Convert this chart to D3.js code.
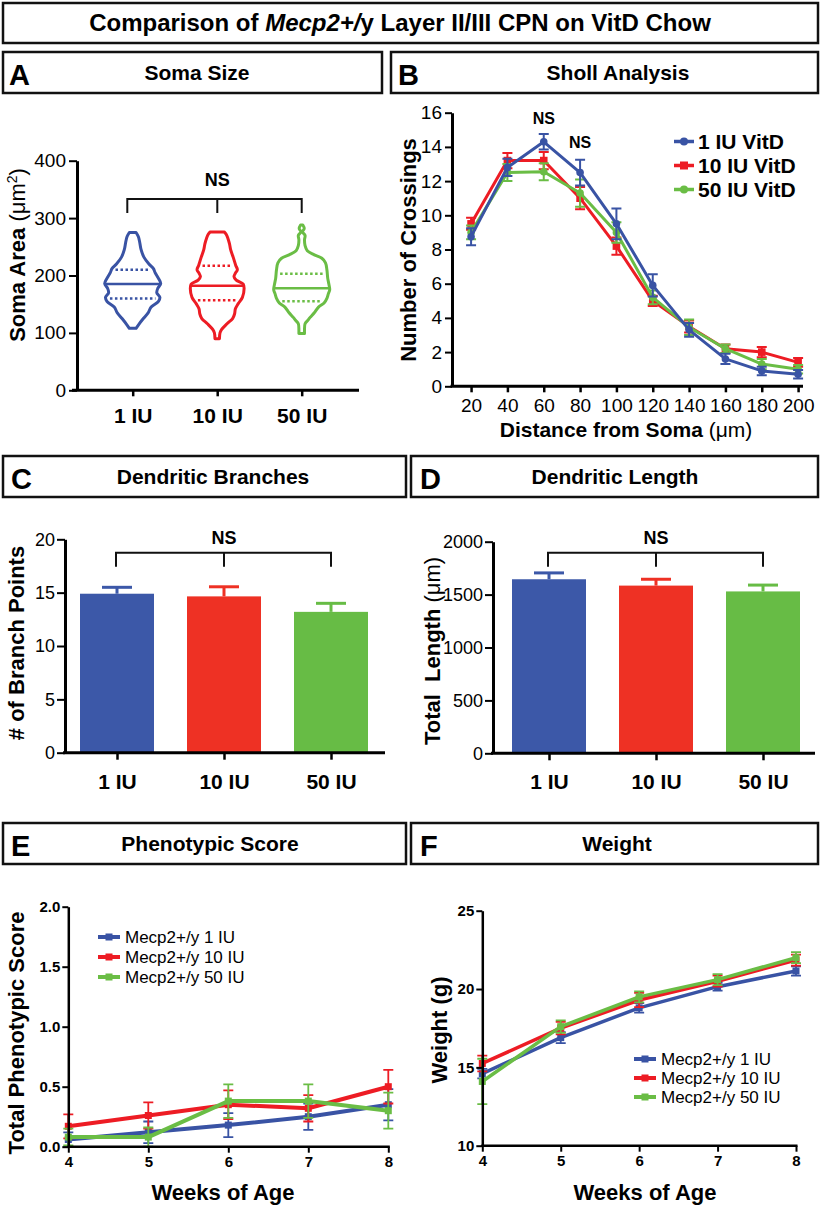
<!DOCTYPE html>
<html>
<head>
<meta charset="utf-8">
<script src="https://cdn.jsdelivr.net/npm/d3@7"></script>
<style>
  body { margin: 0; background: #fff; }
  svg { display: block; }
</style>
</head>
<body>
<div id="fig"></div>
<script>
// Mecp2 VitD figure - six panels

var FONT = "Liberation Sans, Arial, Helvetica, sans-serif";

var groups = ["1 IU", "10 IU", "50 IU"];
var lineColors = ["#3953a4", "#ed1c24", "#6abd45"];
var barColors = ["#3c58a8", "#ee3124", "#67bc45"];

// A - soma size violins: [value, relative width]
var somaTicks = [0, 100, 200, 300, 400];
var violinBlue = [[108,0.12],[115,0.22],[125,0.38],[135,0.55],[145,0.66],[155,0.92],[162,0.97],[170,0.86],[178,0.9],[186,1.0],[195,0.92],[205,0.8],[212,0.74],[220,0.58],[232,0.4],[245,0.3],[258,0.25],[268,0.2],[275,0.12]];
var violinRed = [[90,0.08],[100,0.1],[106,0.16],[116,0.35],[125,0.55],[133,0.62],[142,0.65],[151,0.75],[162,0.9],[177,0.96],[185,0.93],[192,0.68],[198,0.6],[204,0.65],[210,0.72],[218,0.66],[232,0.57],[245,0.48],[255,0.44],[265,0.38],[272,0.32],[276,0.25]];
var violinGreen = [[99,0.1],[105,0.1],[116,0.12],[122,0.22],[127,0.3],[135,0.45],[145,0.6],[152,0.8],[160,0.9],[168,0.95],[175,1.0],[185,0.97],[195,0.93],[210,0.9],[222,0.85],[230,0.72],[236,0.45],[243,0.2],[252,0.12],[262,0.1],[270,0.12],[276,0.03],[282,0.09],[288,0.04]];
var somaQuart = [[160,185,210],[157,182,217],[155,178,203]];

// B - sholl analysis
var shollDist = [20, 40, 60, 80, 100, 120, 140, 160, 180, 200];
var shollTicks = [0, 2, 4, 6, 8, 10, 12, 14, 16];
var shollBlue = [8.75, 12.8, 14.3, 12.5, 9.5, 5.9, 3.3, 1.6, 0.9, 0.7];
var shollBlueErr = [0.5, 0.5, 0.45, 0.75, 0.9, 0.65, 0.4, 0.3, 0.25, 0.25];
var shollRed = [9.5, 13.2, 13.2, 11.0, 8.2, 5.0, 3.5, 2.2, 2.0, 1.4];
var shollRedErr = [0.35, 0.45, 0.5, 0.65, 0.5, 0.3, 0.35, 0.25, 0.3, 0.25];
var shollGreen = [9.0, 12.5, 12.55, 11.3, 9.0, 5.2, 3.45, 2.2, 1.3, 1.0];
var shollGreenErr = [0.4, 0.5, 0.5, 0.8, 0.6, 0.4, 0.45, 0.25, 0.3, 0.25];
var shollNames = ["1 IU VitD", "10 IU VitD", "50 IU VitD"];

// C - dendritic branches
var branchTicks = [0, 5, 10, 15, 20];
var branchMean = [14.9, 14.65, 13.2];
var branchErr = [0.6, 0.9, 0.8];

// D - dendritic length
var lengthTicks = [0, 500, 1000, 1500, 2000];
var lengthMean = [1645, 1585, 1530];
var lengthErr = [60, 60, 60];

// E - phenotypic score
var weeks = [4, 5, 6, 7, 8];
var scoreTicks = [0, 0.5, 1.0, 1.5, 2.0];
var scoreBlue = [0.06, 0.12, 0.18, 0.25, 0.35];
var scoreBlueErr = [0.06, 0.09, 0.1, 0.11, 0.13];
var scoreRed = [0.17, 0.26, 0.35, 0.32, 0.50];
var scoreRedErr = [0.1, 0.11, 0.12, 0.11, 0.14];
var scoreGreen = [0.08, 0.08, 0.38, 0.38, 0.30];
var scoreGreenErr = [0.07, 0.08, 0.14, 0.14, 0.15];

// F - weight
var weightTicks = [10, 15, 20, 25];
var weightBlue = [14.6, 16.9, 18.8, 20.15, 21.15];
var weightBlueErr = [0.3, 0.35, 0.3, 0.25, 0.3];
var weightRed = [15.25, 17.5, 19.3, 20.5, 21.85];
var weightRedErr = [0.5, 0.4, 0.45, 0.35, 0.35];
var weightGreen = [14.1, 17.6, 19.5, 20.6, 22.0];
var weightGreenErr = [1.45, 0.4, 0.35, 0.35, 0.35];
var mouseNames = ["Mecp2+/y 1 IU", "Mecp2+/y 10 IU", "Mecp2+/y 50 IU"];

var width = 820;
var height = 1207;

var svg = d3.select("#fig")
    .append("svg")
    .attr("width", width)
    .attr("height", height)
    .style("font-family", FONT);

// ---------- header boxes ----------
function box(x, y, w, h) {
    svg.append("rect")
        .attr("x", x).attr("y", y)
        .attr("width", w).attr("height", h)
        .attr("fill", "none")
        .attr("stroke", "#111")
        .attr("stroke-width", 2.5);
}

function header(x, y, w, letter, lx, title, tx) {
    box(x, y, w, 41);
    svg.append("text")
        .attr("x", lx).attr("y", y + 33)
        .attr("font-size", 29).attr("font-weight", "bold")
        .text(letter);
    svg.append("text")
        .attr("x", tx).attr("y", y + 28)
        .attr("text-anchor", "middle")
        .attr("font-size", 21).attr("font-weight", "bold")
        .text(title);
}

box(3, 3, 815, 40);
var mainTitle = svg.append("text")
    .attr("x", 400).attr("y", 31)
    .attr("text-anchor", "middle")
    .attr("font-size", 24).attr("font-weight", "bold");
mainTitle.append("tspan").text("Comparison of ");
mainTitle.append("tspan").attr("font-style", "italic").text("Mecp2+/");
mainTitle.append("tspan").text("y Layer II/III CPN on VitD Chow");

header(3, 52, 379, "A", 9, "Soma Size", 197);
header(391, 52, 427, "B", 398, "Sholl Analysis", 618);
header(3, 456, 403, "C", 11, "Dendritic Branches", 213);
header(411, 456, 407, "D", 420, "Dendritic Length", 615);
header(3, 823, 403, "E", 11, "Phenotypic Score", 210);
header(411, 823, 407, "F", 420, "Weight", 617);

// ---------- axis helpers ----------
function leftAxis(scale, x, ticks, opt) {
    var g = svg.append("g")
        .attr("transform", "translate(" + x + ",0)")
        .call(d3.axisLeft(scale)
            .tickValues(ticks)
            .tickSize(opt.tick)
            .tickSizeOuter(0)
            .tickPadding(opt.pad)
            .tickFormat(opt.fmt || function(d) { return d; }));
    g.select(".domain").attr("stroke", "#000").attr("stroke-width", opt.sw);
    g.selectAll(".tick line").attr("stroke", "#000").attr("stroke-width", opt.tsw || 2);
    g.selectAll(".tick text")
        .attr("fill", "#000")
        .attr("font-family", FONT)
        .attr("font-size", opt.fs)
        .attr("font-weight", opt.bold ? "bold" : "normal");
    return g;
}

function bottomAxis(scale, y, ticks, opt) {
    var g = svg.append("g")
        .attr("transform", "translate(0," + y + ")")
        .call(d3.axisBottom(scale)
            .tickValues(ticks)
            .tickSize(opt.tick)
            .tickSizeOuter(0)
            .tickPadding(opt.pad)
            .tickFormat(opt.fmt || function(d) { return d; }));
    g.select(".domain").remove();
    g.selectAll(".tick line").attr("stroke", "#000").attr("stroke-width", opt.tsw || 2.5);
    g.selectAll(".tick text")
        .attr("fill", "#000")
        .attr("font-family", FONT)
        .attr("font-size", opt.fs)
        .attr("font-weight", opt.bold ? "bold" : "normal");
    svg.append("line")
        .attr("x1", opt.x0).attr("x2", opt.x1)
        .attr("y1", y).attr("y2", y)
        .attr("stroke", "#000").attr("stroke-width", opt.sw);
    return g;
}

function yTitle(x, y, parts) {
    var t = svg.append("text")
        .attr("transform", "translate(" + x + "," + y + ") rotate(-90)")
        .attr("text-anchor", "middle")
        .attr("font-size", 22)
        .style("white-space", "pre");
    parts.forEach(function(p) {
        var s = t.append("tspan").attr("font-weight", p[1] ? "bold" : "normal").text(p[0]);
        if (p[2]) s.attr("font-size", 14).attr("baseline-shift", "super");
    });
}

function xTitle(x, y, parts, fs) {
    var t = svg.append("text")
        .attr("x", x).attr("y", y)
        .attr("text-anchor", "middle")
        .attr("font-size", fs || 22);
    parts.forEach(function(p) {
        t.append("tspan").attr("font-weight", p[1] ? "bold" : "normal").text(p[0]);
    });
}

function bracket(x0, xm, x1, y, drop, labelY, fs) {
    var path = d3.path();
    path.moveTo(x0, y + drop); path.lineTo(x0, y); path.lineTo(x1, y); path.lineTo(x1, y + drop);
    path.moveTo(xm, y); path.lineTo(xm, y + drop);
    svg.append("path").attr("d", path.toString())
        .attr("fill", "none").attr("stroke", "#111").attr("stroke-width", 2);
    svg.append("text").attr("x", xm).attr("y", labelY)
        .attr("text-anchor", "middle")
        .attr("font-size", fs).attr("font-weight", "bold")
        .text("NS");
}

// ---------- A: violins ----------
var yA = d3.scaleLinear().domain([0, 400]).range([390.3, 160.7]);
var xA = d3.scalePoint().domain(groups).range([132.7, 301.7]);
var vw = d3.scaleLinear().domain([0, 1]).range([0, 28]);

function halfAt(prof, v) {
    for (var i = 0; i < prof.length - 1; i++) {
        if (v >= prof[i][0] && v <= prof[i + 1][0]) {
            var t = (v - prof[i][0]) / (prof[i + 1][0] - prof[i][0]);
            return prof[i][1] + t * (prof[i + 1][1] - prof[i][1]);
        }
    }
    return 0;
}

[violinBlue, violinRed, violinGreen].forEach(function(prof, i) {
    var cx = xA(groups[i]);
    var area = d3.area()
        .curve(d3.curveCatmullRom)
        .y(function(d) { return yA(d[0]); })
        .x0(function(d) { return cx - vw(d[1]); })
        .x1(function(d) { return cx + vw(d[1]); });
    svg.append("path")
        .attr("d", area(prof))
        .attr("fill", "none")
        .attr("stroke", lineColors[i])
        .attr("stroke-width", 3)
        .attr("stroke-linejoin", "round");
    somaQuart[i].forEach(function(q, k) {
        var hw = vw(halfAt(prof, q)) - (k === 1 ? 0 : 4);
        svg.append("line")
            .attr("x1", cx - hw).attr("x2", cx + hw)
            .attr("y1", yA(q)).attr("y2", yA(q))
            .attr("stroke", lineColors[i])
            .attr("stroke-width", 2.5)
            .attr("stroke-dasharray", k === 1 ? null : "2.5,2.5");
    });
});

leftAxis(yA, 77, somaTicks, { tick: 8, pad: 3, sw: 3, fs: 19 });
bottomAxis(xA, 390.3, groups, { tick: 6, pad: 12, sw: 3, fs: 21, bold: true, x0: 72, x1: 359 });
yTitle(25, 255, [["Soma Area ", true], ["(μm", false], ["2", false, true], [")", false]]);
bracket(127.3, 217.3, 301.7, 199, 14, 186, 18);

// ---------- B: sholl ----------
var xB = d3.scaleLinear().domain([9.5, 202.7]).range([452, 803]);
var yB = d3.scaleLinear().domain([0, 16]).range([386.3, 112.7]);

var shollSeries = [
    { v: shollRed, e: shollRedErr, c: 1, m: "square" },
    { v: shollGreen, e: shollGreenErr, c: 2, m: "circle" },
    { v: shollBlue, e: shollBlueErr, c: 0, m: "circle" }
];

function drawSeries(xs, xScale, yScale, s, lw, ms, cap) {
    var col = lineColors[s.c];
    var g = svg.append("g");
    var line = d3.line()
        .x(function(d, i) { return xScale(xs[i]); })
        .y(function(d) { return yScale(d); });
    g.append("path").attr("d", line(s.v))
        .attr("fill", "none").attr("stroke", col)
        .attr("stroke-width", lw).attr("stroke-linejoin", "round");
    s.v.forEach(function(v, i) {
        var x = xScale(xs[i]);
        var lo = yScale(Math.max(v - s.e[i], yScale.domain()[0]));
        var hi = yScale(v + s.e[i]);
        var p = d3.path();
        p.moveTo(x, lo); p.lineTo(x, hi);
        p.moveTo(x - cap, hi); p.lineTo(x + cap, hi);
        p.moveTo(x - cap, lo); p.lineTo(x + cap, lo);
        g.append("path").attr("d", p.toString())
            .attr("stroke", col).attr("stroke-width", 2).attr("fill", "none");
        if (s.m === "circle") {
            g.append("circle").attr("cx", x).attr("cy", yScale(v)).attr("r", ms).attr("fill", col);
        } else {
            g.append("rect").attr("x", x - ms).attr("y", yScale(v) - ms)
                .attr("width", ms * 2).attr("height", ms * 2).attr("fill", col);
        }
    });
}

shollSeries.forEach(function(s) { drawSeries(shollDist, xB, yB, s, 3, 3.8, 5); });

leftAxis(yB, 452, shollTicks, { tick: 7, pad: 3, sw: 3, fs: 19 });
bottomAxis(xB, 386.3, shollDist, { tick: 6, pad: 6, sw: 3, fs: 19, x0: 450.5, x1: 803 });
xTitle(626, 437, [["Distance from Soma ", true], ["(μm)", false]], 21);
yTitle(416, 250, [["Number of Crossings", true]]);

svg.append("text").attr("x", xB(60)).attr("y", 124).attr("text-anchor", "middle")
    .attr("font-size", 16).attr("font-weight", "bold").text("NS");
svg.append("text").attr("x", xB(80)).attr("y", 148).attr("text-anchor", "middle")
    .attr("font-size", 16).attr("font-weight", "bold").text("NS");

shollNames.forEach(function(name, i) {
    var y = 149 + i * 24;
    var col = lineColors[i];
    svg.append("line").attr("x1", 674).attr("x2", 694).attr("y1", y - 7.5).attr("y2", y - 7.5)
        .attr("stroke", col).attr("stroke-width", 3.5);
    if (i === 1) {
        svg.append("rect").attr("x", 680).attr("y", y - 11.5).attr("width", 8).attr("height", 8).attr("fill", col);
    } else {
        svg.append("circle").attr("cx", 684).attr("cy", y - 7.5).attr("r", 4).attr("fill", col);
    }
    svg.append("text").attr("x", 698).attr("y", y)
        .attr("font-size", 21).attr("font-weight", "bold").text(name);
});

// ---------- C and D: bars ----------
function barPanel(cfg) {
    var x = d3.scalePoint().domain(groups).range(cfg.xr);
    var y = d3.scaleLinear().domain(cfg.dom).range(cfg.yr);
    cfg.mean.forEach(function(m, i) {
        var cx = x(groups[i]);
        var top = y(m + cfg.err[i]);
        svg.append("line").attr("x1", cx).attr("x2", cx).attr("y1", y(m)).attr("y2", top)
            .attr("stroke", barColors[i]).attr("stroke-width", 3);
        svg.append("line").attr("x1", cx - 15).attr("x2", cx + 15).attr("y1", top).attr("y2", top)
            .attr("stroke", barColors[i]).attr("stroke-width", 3);
        svg.append("rect")
            .attr("x", cx - 37).attr("y", y(m))
            .attr("width", 74).attr("height", y(cfg.dom[0]) - y(m))
            .attr("fill", barColors[i]);
    });
    leftAxis(y, cfg.ax, cfg.ticks, { tick: 8, pad: 2, sw: 3, fs: 18 });
    bottomAxis(x, cfg.yr[0], groups, { tick: 7, pad: 14, sw: 3, fs: 21, bold: true, x0: cfg.ax - 2, x1: cfg.xEnd });
    bracket(x(groups[0]) - 1, x(groups[1]), x(groups[2]), 552.7, 14, 544, 18);
}

barPanel({ xr: [117, 331], dom: [0, 20], yr: [752.7, 539.3], mean: branchMean, err: branchErr,
    ax: 65, ticks: branchTicks, xEnd: 385 });
yTitle(24, 643, [["# of Branch Points", true]]);

barPanel({ xr: [549, 763], dom: [0, 2000], yr: [753.3, 541.7], mean: lengthMean, err: lengthErr,
    ax: 493, ticks: lengthTicks, xEnd: 815 });
yTitle(440, 651, [["Total  Length ", true], ["(μm)", false]]);

// ---------- E and F: weekly lines ----------
function weekPanel(cfg) {
    var x = d3.scaleLinear().domain([4, 8]).range(cfg.xr);
    var y = d3.scaleLinear().domain(cfg.dom).range(cfg.yr);
    cfg.series.forEach(function(s) {
        var col = lineColors[s.c];
        var g = svg.append("g");
        s.v.forEach(function(v, i) {
            var px = x(weeks[i]);
            var lo = y(Math.max(v - s.e[i], cfg.dom[0]));
            var hi = y(v + s.e[i]);
            var p = d3.path();
            p.moveTo(px, lo); p.lineTo(px, hi);
            p.moveTo(px - 5, hi); p.lineTo(px + 5, hi);
            p.moveTo(px - 5, lo); p.lineTo(px + 5, lo);
            g.append("path").attr("d", p.toString())
                .attr("stroke", col).attr("stroke-width", 1.8).attr("fill", "none");
        });
        var line = d3.line()
            .x(function(d, i) { return x(weeks[i]); })
            .y(function(d) { return y(d); });
        g.append("path").attr("d", line(s.v))
            .attr("fill", "none").attr("stroke", col)
            .attr("stroke-width", cfg.lw).attr("stroke-linejoin", "round");
        s.v.forEach(function(v, i) {
            g.append("rect").attr("x", x(weeks[i]) - 3.5).attr("y", y(v) - 3.5)
                .attr("width", 7).attr("height", 7).attr("fill", col);
        });
    });
    leftAxis(y, cfg.xr[0], cfg.ticks, { tick: 6, pad: 2, sw: 2.5, fs: 15, bold: true, fmt: cfg.fmt });
    bottomAxis(x, cfg.yr[0], weeks, { tick: 6, pad: 4, sw: 2.5, fs: 15, bold: true, x0: cfg.xr[0] - 1, x1: cfg.xr[1] + 1.5, tsw: 2 });
    xTitle(cfg.tx, 1200, [["Weeks of Age", true]], 22);
    mouseNames.forEach(function(name, i) {
        var yy = cfg.leg[1] + i * cfg.leg[2];
        svg.append("line").attr("x1", cfg.leg[0]).attr("x2", cfg.leg[0] + 22)
            .attr("y1", yy - 6).attr("y2", yy - 6)
            .attr("stroke", lineColors[i]).attr("stroke-width", 4);
        svg.append("rect").attr("x", cfg.leg[0] + 7.5).attr("y", yy - 9.5)
            .attr("width", 7).attr("height", 7).attr("fill", lineColors[i]);
        svg.append("text").attr("x", cfg.leg[0] + 27).attr("y", yy)
            .attr("font-size", 17).text(name);
    });
}

weekPanel({
    xr: [68.3, 388.3], dom: [0, 2], yr: [1146.7, 906.7], ticks: scoreTicks,
    fmt: d3.format(".1f"), lw: 4, tx: 223, leg: [98, 943, 20],
    series: [
        { v: scoreBlue, e: scoreBlueErr, c: 0 },
        { v: scoreRed, e: scoreRedErr, c: 1 },
        { v: scoreGreen, e: scoreGreenErr, c: 2 }
    ]
});
yTitle(24, 1033, [["Total Phenotypic Score", true]]);

weekPanel({
    xr: [482.3, 796], dom: [10, 25], yr: [1145.7, 910.7], ticks: weightTicks,
    lw: 3.5, tx: 645, leg: [634, 1065, 19],
    series: [
        { v: weightBlue, e: weightBlueErr, c: 0 },
        { v: weightRed, e: weightRedErr, c: 1 },
        { v: weightGreen, e: weightGreenErr, c: 2 }
    ]
});
yTitle(447, 1030, [["Weight (g)", true]]);
</script>
</body>
</html>
